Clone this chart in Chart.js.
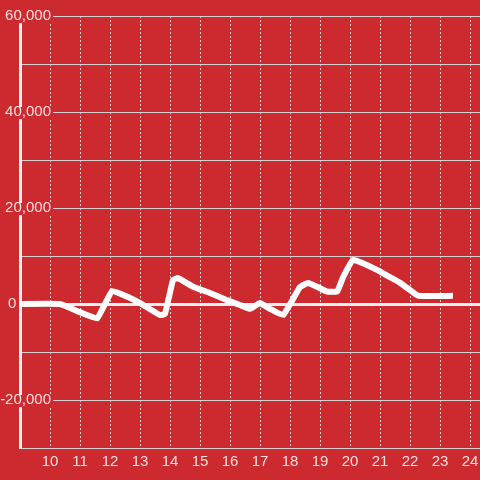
<!DOCTYPE html>
<html>
<head>
<meta charset="utf-8">
<script src="https://cdn.jsdelivr.net/npm/chart.js@4.4.1/dist/chart.umd.min.js"></script>
<style>
  html, body { margin: 0; padding: 0; background: #cc2a2e; }
  #chart { display: block; }
</style>
</head>
<body>
<canvas id="chart" width="480" height="480"></canvas>
<script>
// --- data ---
const hours = [8.8, 10.33, 11.0, 11.57, 12.07, 12.67, 13.0, 13.67, 13.83, 14.1, 14.27,
  14.77, 15.33, 15.9, 16.33, 16.67, 17.0, 17.33, 17.77, 18.33, 18.6, 19.0, 19.23,
  19.57, 19.77, 20.1, 20.43, 20.9, 21.33, 21.67, 22.0, 22.27, 23.43];
const values = [0, 0, -1700, -3000, 2700, 1250, 200, -2300, -2100, 5000, 5400,
  3600, 2300, 800, -200, -1000, 200, -1000, -2300, 3500, 4400, 3300, 2600,
  2600, 5600, 9200, 8500, 7100, 5600, 4400, 2900, 1700, 1700];
const xTicks = [10, 11, 12, 13, 14, 15, 16, 17, 18, 19, 20, 21, 22, 23, 24];
const yTicks = [-30000, -20000, -10000, 0, 10000, 20000, 30000, 40000, 50000, 60000];
const yLabelled = [-20000, 0, 20000, 40000, 60000];

const BG = '#cc2a2e';
const TEXT = '#f7dfdf';
const GRID = '#d6d0d0';

Chart.defaults.font.family = '"Liberation Sans", Arial, sans-serif';
Chart.defaults.font.size = 15;
Chart.defaults.color = TEXT;

function yLabel(v) {
  if (!yLabelled.includes(v)) return '';
  // the zero label sits further left, next to the axis line
  if (v === 0) return '0' + '\u00a0'.repeat(8) + '\u200a';
  return v.toLocaleString('en-US');
}

new Chart(document.getElementById('chart'), {
  type: 'line',
  data: {
    datasets: [{
      data: hours.map((h, i) => ({ x: h, y: values[i] })),
      borderColor: '#ffffff',
      borderWidth: 6,
      borderJoinStyle: 'round',
      pointRadius: 0,
      tension: 0.1,
      fill: false
    }]
  },
  options: {
    responsive: false,
    animation: false,
    layout: { padding: { top: 16, right: 0, left: 0, bottom: 0 } },
    plugins: {
      legend: { display: false },
      tooltip: { enabled: false }
    },
    scales: {
      x: {
        type: 'linear',
        min: 9,
        max: 24.333,
        afterBuildTicks: (scale) => { scale.ticks = xTicks.map(v => ({ value: v })); },
        afterFit: (scale) => {
          scale.height = 32;
          scale.paddingLeft = 0;
          scale.paddingRight = 0;
        },
        grid: {
          color: GRID,
          lineWidth: 1,
          drawTicks: false
        },
        border: {
          color: GRID,
          width: 1,
          dash: [2, 2]
        },
        ticks: {
          padding: 5,
          maxRotation: 0,
          autoSkip: false
        }
      },
      y: {
        min: -30000,
        max: 60000,
        afterBuildTicks: (scale) => { scale.ticks = yTicks.map(v => ({ value: v })); },
        afterFit: (scale) => {
          scale.width = 20;
          // labels sit over the plot, so don't clip them to the axis box
          scale._computeLabelArea = () => undefined;
        },
        grid: {
          color: (ctx) => ctx.tick && ctx.tick.value === 0 ? '#f4f0f0' : GRID,
          lineWidth: (ctx) => ctx.tick && ctx.tick.value === 0 ? 3 : 1,
          drawTicks: false
        },
        border: {
          color: '#f4f0f0',
          width: 3
        },
        ticks: {
          padding: -31,
          showLabelBackdrop: (ctx) => ctx.tick.value !== 0 && yLabelled.includes(ctx.tick.value),
          backdropColor: BG,
          backdropPadding: { left: 2, right: 2, top: -4, bottom: -2 },
          callback: yLabel
        }
      }
    }
  }
});
</script>
</body>
</html>
